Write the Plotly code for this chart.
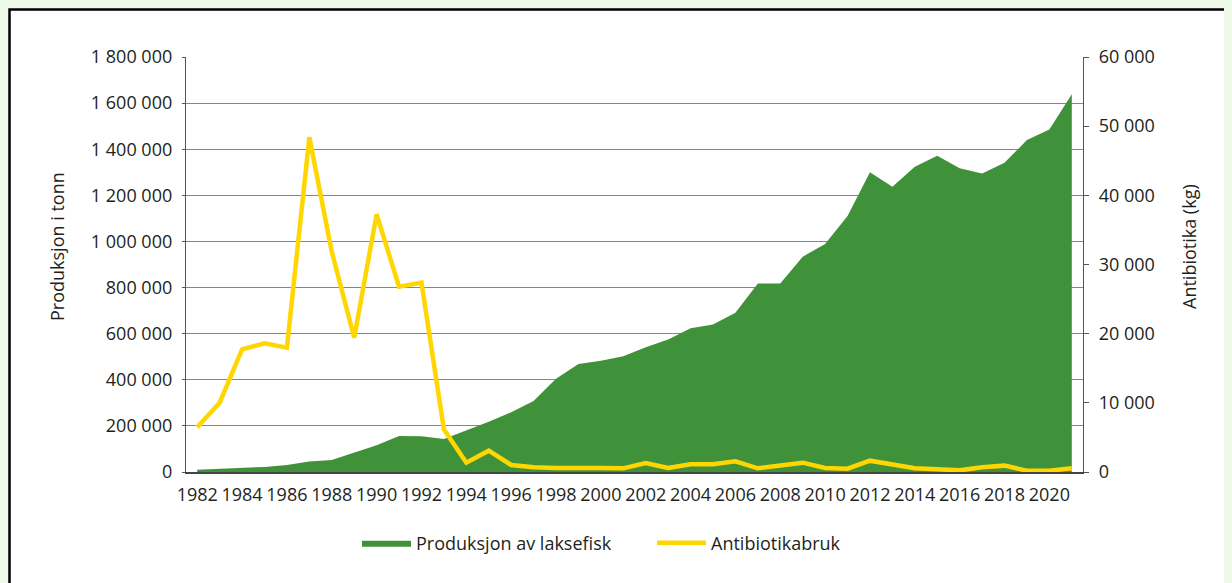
import plotly.graph_objects as go

years = list(range(1982, 2022))

# tonn
produksjon = [10000, 13000, 17000, 22000, 30000, 46000, 52000, 84000, 116000, 156000,
              155000, 143000, 179000, 218000, 259000, 308000, 404000, 468000, 483000, 502000,
              541000, 575000, 623000, 640000, 691000, 818000, 818000, 934000, 989000, 1110000,
              1300000, 1237000, 1324000, 1372000, 1317000, 1295000, 1341000, 1440000, 1486000, 1638000]

# kg
antibiotika = [6470, 10020, 17740, 18610, 17980, 48390, 31860, 19420, 37260, 26800,
               27380, 6170, 1350, 3080, 1010, 680, 580, 500, 580, 530,
               1300, 580, 1110, 1110, 1540, 530, 920, 1350, 580, 480,
               1640, 1010, 530, 390, 240, 675, 920, 190, 190, 530]

left_ticks = list(range(0, 1800001, 200000))
right_ticks = list(range(0, 60001, 10000))
x_ticks = list(range(1982, 2021, 2))

GREEN = "#40923a"
YELLOW = "#ffd600"
TEXT = "#231f20"
FONT = "Open Sans"

# plot area in figure pixels (the page adds an 8px body margin)
L, T, W, H = 178, 49, 897, 415


def px_x(p):
    return (p - L) / W


def px_y(p):
    return (T + H - p) / H


fig = go.Figure()
fig.add_trace(go.Scatter(
    x=years, y=produksjon, name="Produksjon av laksefisk",
    mode="lines", fill="tozeroy", fillcolor=GREEN,
    line=dict(color=GREEN, width=0)))
fig.add_trace(go.Scatter(
    x=years, y=antibiotika, name="Antibiotikabruk", yaxis="y2",
    mode="lines", line=dict(color=YELLOW, width=4.5)))

fig.update_layout(
    width=1224, height=575,
    margin=dict(l=L, r=1224 - L - W, t=T, b=575 - T - H),
    paper_bgcolor="white", plot_bgcolor="rgba(0,0,0,0)",
    font=dict(family=FONT, size=18, color=TEXT),
    separators=", ",
    showlegend=True,
    legend=dict(orientation="h", x=px_x(349), xanchor="left", y=px_y(535), yanchor="middle",
                font=dict(size=18, color=TEXT), bgcolor="rgba(0,0,0,0)",
                itemwidth=49, entrywidth=231, entrywidthmode="pixels"),
    xaxis=dict(range=[1981.5, 2021.5], tickvals=x_ticks, showgrid=False, zeroline=False,
               showline=True, linecolor="#444444", linewidth=1.5, ticks="",
               ticklabelstandoff=6, tickfont=dict(size=18, color=TEXT)),
    yaxis=dict(range=[0, 1800000], tickvals=left_ticks, tickformat=",",
               showgrid=True, gridcolor="#858585", gridwidth=1.3, zeroline=False,
               showline=True, linecolor="#555555", linewidth=1.3,
               ticks="outside", ticklen=3, tickcolor="#555555",
               ticklabelstandoff=6, tickfont=dict(size=18, color=TEXT)),
    yaxis2=dict(range=[0, 60000], tickvals=right_ticks, tickformat=",",
                overlaying="y", side="right", showgrid=False, zeroline=False,
                showline=True, linecolor="#555555", linewidth=1.3,
                ticks="outside", ticklen=5, tickcolor="#555555",
                ticklabelstandoff=6, tickfont=dict(size=18, color=TEXT)),
    shapes=[dict(type="rect", xref="paper", yref="paper", layer="below",
                 x0=px_x(1.5), x1=1.4, y0=-0.5, y1=px_y(1.5),
                 line=dict(color="black", width=2.5))],
    annotations=[
        dict(text="Produksjon i tonn", xref="paper", yref="paper",
             x=px_x(49), y=px_y(239), textangle=-90, showarrow=False,
             xanchor="center", yanchor="middle", font=dict(size=18, color=TEXT)),
        dict(text="Antibiotika (kg)", xref="paper", yref="paper",
             x=px_x(1181), y=px_y(239), textangle=-90, showarrow=False,
             xanchor="center", yanchor="middle", font=dict(size=18, color=TEXT)),
    ],
)

fig.write_html("out.html", post_script="document.body.style.backgroundColor = '#eff9ea';")
